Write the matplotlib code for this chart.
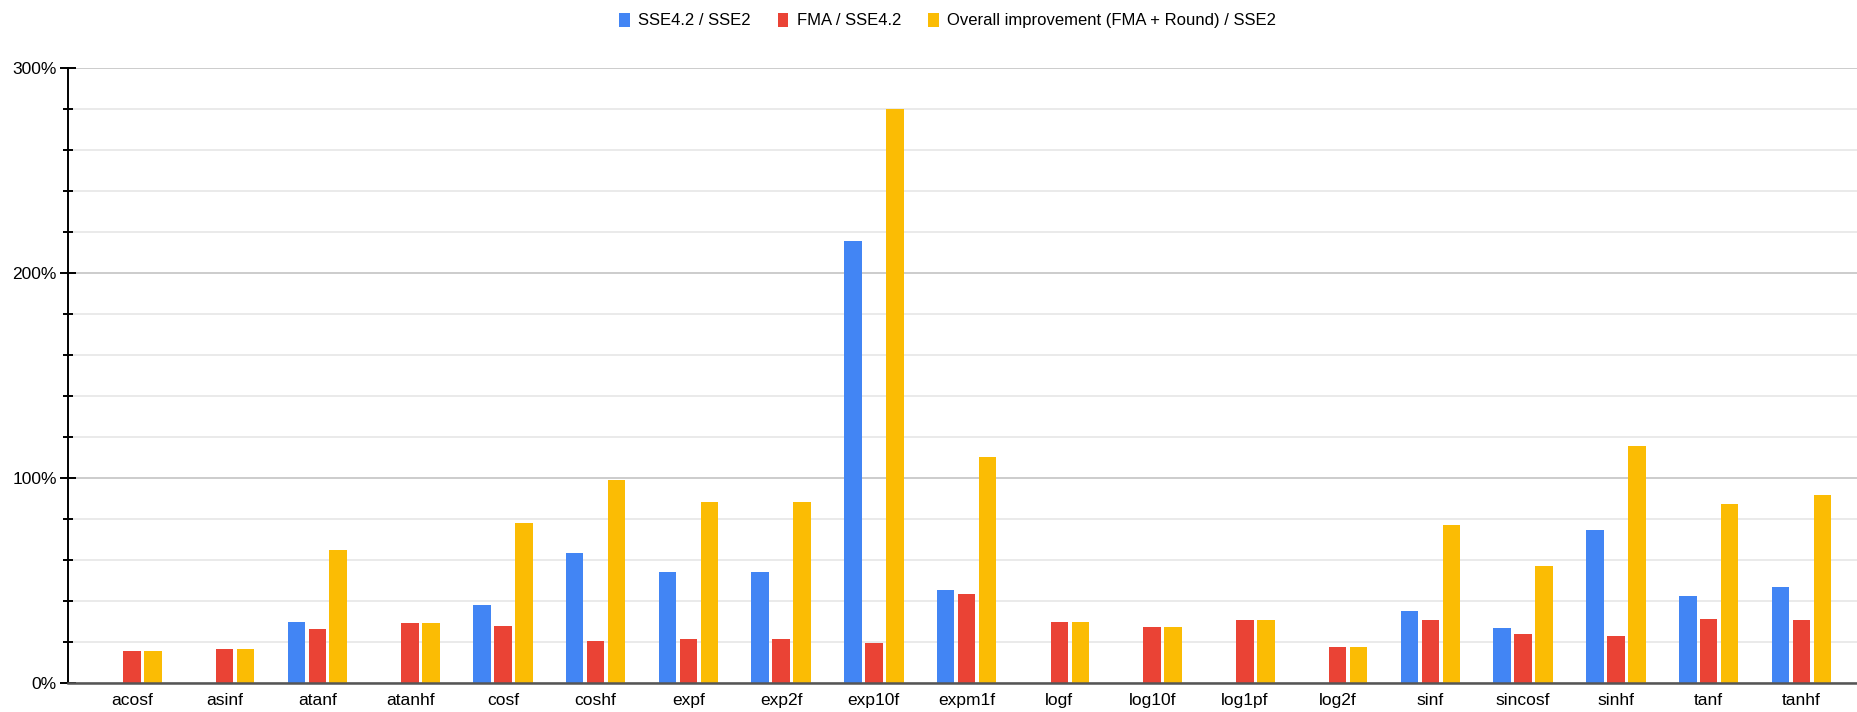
import matplotlib
matplotlib.use('Agg')
import matplotlib.pyplot as plt
from matplotlib.ticker import MultipleLocator, FuncFormatter
import numpy as np

plt.rcParams['font.family'] = ['Liberation Sans', 'DejaVu Sans']

functions = ['acosf', 'asinf', 'atanf', 'atanhf', 'cosf', 'coshf', 'expf', 'exp2f',
             'exp10f', 'expm1f', 'logf', 'log10f', 'log1pf', 'log2f', 'sinf',
             'sincosf', 'sinhf', 'tanf', 'tanhf']

# speedups in percent, nan where there is no SSE4.2 variant
sse42_vs_sse2 = [np.nan, np.nan, 30.0, np.nan, 38.4, 63.7, 54.0, 54.0, 215.4, 45.7,
                 np.nan, np.nan, np.nan, np.nan, 35.2, 26.8, 74.9, 42.5, 47.0]
fma_vs_sse42 = [15.9, 16.7, 26.4, 29.5, 27.9, 20.8, 21.7, 21.7, 19.5, 43.5,
                29.8, 27.6, 30.7, 17.8, 30.7, 23.8, 23.0, 31.5, 30.7]
overall = [15.9, 16.7, 64.9, 29.5, 78.3, 99.3, 88.4, 88.4, 280.0, 110.3,
           29.8, 27.6, 30.7, 17.8, 77.2, 57.1, 115.5, 87.6, 92.0]

labels = ['SSE4.2 / SSE2', 'FMA / SSE4.2', 'Overall improvement (FMA + Round) / SSE2']
colors = ['#4285F4', '#EA4335', '#FBBC04']

fig = plt.figure(figsize=(18.58, 7.12), dpi=100)
ax = fig.add_axes([0.0365, 0.0403, 0.9635, 0.8646])

x = np.arange(len(functions))
width = 0.19
step = 0.226
for i, (vals, lab, col) in enumerate(zip([sse42_vs_sse2, fma_vs_sse42, overall], labels, colors)):
    ax.bar(x + (i - 1) * step, vals, width, color=col, label=lab, zorder=3)

ax.set_xlim(-0.69, 18.61)
ax.set_ylim(0, 300)

ax.yaxis.set_major_locator(MultipleLocator(100))
ax.yaxis.set_minor_locator(MultipleLocator(20))
ax.yaxis.set_major_formatter(FuncFormatter(lambda v, p: f'{v:.0f}%'))
ax.set_xticks(x)
ax.set_xticklabels(functions)

ax.grid(axis='y', which='major', color='#c8c8c8', linewidth=1.3, zorder=0)
ax.grid(axis='y', which='minor', color='#e8e8e8', linewidth=1.3, zorder=0)
ax.set_axisbelow(True)

for side in ['top', 'right']:
    ax.spines[side].set_visible(False)
ax.spines['left'].set_color('black')
ax.spines['left'].set_linewidth(1.4)
ax.spines['bottom'].set_color('#555555')
ax.spines['bottom'].set_linewidth(1.8)
ax.spines['bottom'].set_zorder(4)

ax.tick_params(axis='y', which='major', direction='inout', length=12, width=1.4,
               labelsize=12.5, pad=2, colors='black')
ax.tick_params(axis='y', which='minor', direction='inout', length=7, width=1.4, colors='black')
ax.tick_params(axis='x', length=0, labelsize=12.5, pad=7)

fig.legend(loc='upper center', bbox_to_anchor=(0.51, 1.0), ncol=3, frameon=False,
           fontsize=12, handlelength=0.65, handleheight=0.95, handletextpad=0.5,
           columnspacing=1.6, borderaxespad=0.35)

fig.savefig('out.png', dpi=100)
